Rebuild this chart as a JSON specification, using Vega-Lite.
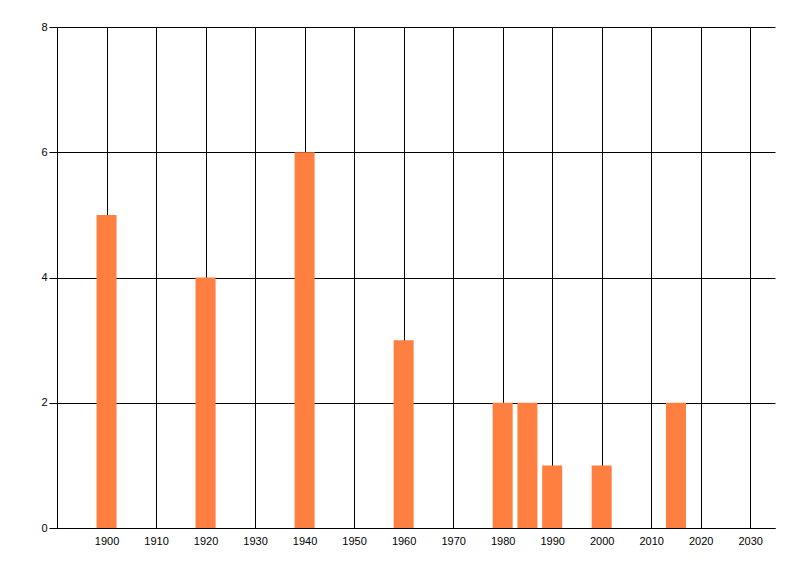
{
  "$schema": "https://vega.github.io/schema/vega-lite/v6.json",
  "autosize": {"type": "none"},
  "padding": {"left": 57, "top": 27, "right": 25, "bottom": 48},
  "width": 718,
  "height": 501,
  "background": "white",
  "config": {
    "view": {"stroke": null},
    "axis": {
      "labelFont": "Liberation Sans",
      "labelFontSize": 11,
      "labelColor": "#000000",
      "gridColor": "#000000",
      "gridOpacity": 1,
      "gridWidth": 1,
      "domainColor": "#000000",
      "domainWidth": 1,
      "tickColor": "#000000",
      "title": null
    }
  },
  "data": {
    "values": [
      {"year": 1900, "count": 5},
      {"year": 1920, "count": 4},
      {"year": 1940, "count": 6},
      {"year": 1960, "count": 3},
      {"year": 1980, "count": 2},
      {"year": 1985, "count": 2},
      {"year": 1990, "count": 1},
      {"year": 2000, "count": 1},
      {"year": 2015, "count": 2}
    ]
  },
  "mark": {"type": "bar", "size": 20, "color": "#ff7f40"},
  "encoding": {
    "x": {
      "field": "year",
      "type": "quantitative",
      "scale": {"domain": [1890, 2035], "nice": false, "zero": false, "padding": 0},
      "axis": {
        "values": [1900, 1910, 1920, 1930, 1940, 1950, 1960, 1970, 1980, 1990, 2000, 2010, 2020, 2030],
        "format": "d",
        "ticks": false,
        "labelPadding": 7,
        "grid": true
      }
    },
    "y": {
      "field": "count",
      "type": "quantitative",
      "scale": {"domain": [0, 8], "nice": false},
      "axis": {
        "values": [0, 2, 4, 6, 8],
        "tickSize": 8,
        "labelPadding": 2,
        "grid": true
      }
    }
  }
}
